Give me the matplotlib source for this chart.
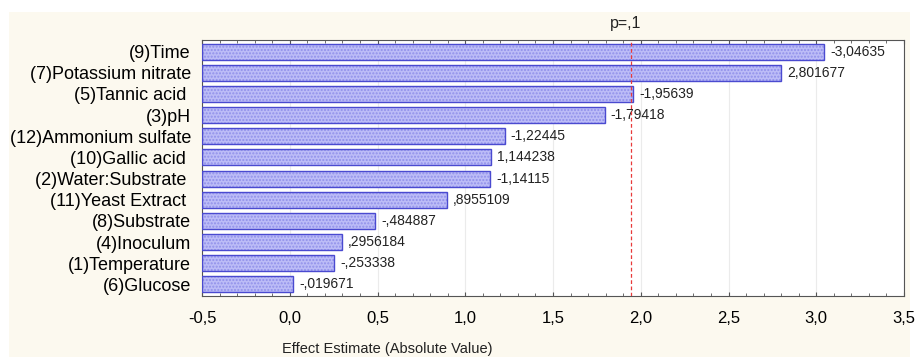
import matplotlib.pyplot as plt
from matplotlib.patches import Rectangle
from matplotlib.ticker import MultipleLocator, FuncFormatter

# effects, top to bottom as in the Pareto chart
factors = ["(9)Time", "(7)Potassium nitrate", "(5)Tannic acid ", "(3)pH",
           "(12)Ammonium sulfate", "(10)Gallic acid ", "(2)Water:Substrate ",
           "(11)Yeast Extract ", "(8)Substrate", "(4)Inoculum",
           "(1)Temperature", "(6)Glucose"]
effects = [-3.04635, 2.801677, -1.95639, -1.79418, -1.22445, 1.144238,
           -1.14115, 0.8955109, -0.484887, 0.2956184, -0.253338, -0.019671]
effect_labels = ["-3,04635", "2,801677", "-1,95639", "-1,79418", "-1,22445",
                 "1,144238", "-1,14115", ",8955109", "-,484887", ",2956184",
                 "-,253338", "-,019671"]
p_crit = 1.943
x_min, x_max = -0.5, 3.5

plt.rcParams['font.family'] = ['Liberation Sans', 'DejaVu Sans']

fig = plt.figure(figsize=(9.22, 3.58), dpi=100)
fig.patch.set_facecolor('white')
W, H = 922, 358
bg = Rectangle((9 / W, 1 / H), 901 / W, 345 / H, transform=fig.transFigure,
               facecolor='#fcf9ef', edgecolor='none', zorder=-10)
fig.add_artist(bg)

ax = fig.add_axes([202 / W, 1 - 296 / H, 702 / W, 256 / H])
ax.set_zorder(5)
ax.set_facecolor('white')

ypos = list(range(len(factors)))[::-1]
widths = [abs(v) - x_min for v in effects]
ax.barh(ypos, widths, left=x_min, height=0.76, color='#bcbcf7',
        edgecolor='#9090ea', hatch='.....', linewidth=0, zorder=2)
ax.barh(ypos, widths, left=x_min, height=0.76, fill=False,
        edgecolor='#4a4ad0', linewidth=1.0, zorder=3)

for y, v, s in zip(ypos, effects, effect_labels):
    ax.text(abs(v) + 0.035, y, s, va='center', ha='left', fontsize=10,
            color='#222222', zorder=4)

# critical t value for p=.1
ax.axvline(p_crit, color='#e83a3a', linestyle=(0, (3, 2)), linewidth=0.9, zorder=4)
ax.text(p_crit - 0.03, 1.035, "p=,1", transform=ax.get_xaxis_transform(),
        ha='center', va='bottom', fontsize=11.5, color='#222222')

ax.set_xlim(x_min, x_max)
ax.set_ylim(-0.55, len(factors) - 0.45)
ax.xaxis.set_major_locator(MultipleLocator(0.5))
ax.xaxis.set_minor_locator(MultipleLocator(0.1))
ax.xaxis.set_major_formatter(FuncFormatter(lambda v, p: f"{v:.1f}".replace('.', ',')))
ax.grid(axis='x', which='major', color='#ebebeb', linewidth=0.8, zorder=1)

ax.set_yticks(ypos)
ax.set_yticklabels(factors, fontsize=13)
ax.tick_params(axis='y', length=0, pad=8)
ax.tick_params(axis='x', which='both', direction='in', top=True, bottom=True,
               labelsize=12, pad=11, color='#555555')
ax.tick_params(axis='x', which='major', length=3)
ax.tick_params(axis='x', which='minor', length=2)

for sp in ax.spines.values():
    sp.set_color('#555555')
    sp.set_linewidth(0.8)

fig.text(387 / W, 1 - 349 / H, "Effect Estimate (Absolute Value)", ha='center',
         va='center', fontsize=10.5, color='#222222')

fig.savefig('out.png', dpi=100, facecolor=fig.get_facecolor())
